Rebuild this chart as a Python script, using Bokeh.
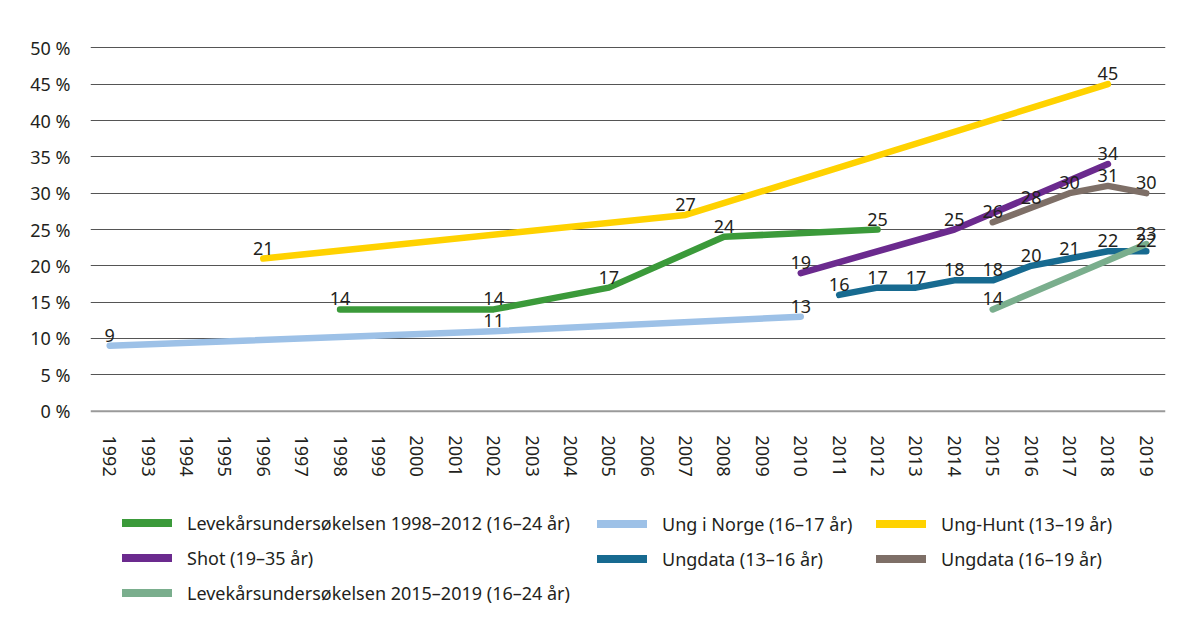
from bokeh.plotting import figure
from bokeh.layouts import column
from bokeh.models import (Range1d, FactorRange, FixedTicker, Legend, LegendItem,
                          ColumnDataSource, Span, CustomJSTickFormatter)
from bokeh.embed import file_html
from bokeh.resources import INLINE
from bokeh.core.properties import value

FONT = "Noto Sans"
TXT = "#231f20"
NAN = float("nan")

years = ["1992", "1993", "1994", "1995", "1996", "1997", "1998", "1999", "2000",
         "2001", "2002", "2003", "2004", "2005", "2006", "2007", "2008", "2009",
         "2010", "2011", "2012", "2013", "2014", "2015", "2016", "2017", "2018", "2019"]
y_ticks = [0, 5, 10, 15, 20, 25, 30, 35, 40, 45, 50]

lev1_years = ["1998", "2002", "2005", "2008", "2012"]
lev1_vals = [14, 14, 17, 24, 25]

ungnorge_years = ["1992", "2002", "2010"]
ungnorge_vals = [9, 11, 13]

hunt_years = ["1996", "2007", "2018"]
hunt_vals = [21, 27, 45]

shot_years = ["2010", "2014", "2018"]
shot_vals = [19, 25, 34]

ud1316_years = ["2011", "2012", "2013", "2014", "2015", "2016", "2017", "2018", "2019"]
ud1316_vals = [16, 17, 17, 18, 18, 20, 21, 22, 22]

ud1619_years = ["2015", "2016", "2017", "2018", "2019"]
ud1619_vals = [26, 28, 30, 31, 30]

lev2_years = ["2015", "2019"]
lev2_vals = [14, 23]

series = [
    ("Levekårsundersøkelsen 1998–2012 (16–24 år)", lev1_years, lev1_vals, "#3b9a3a"),
    ("Ung i Norge (16–17 år)", ungnorge_years, ungnorge_vals, "#9dc1e7"),
    ("Ung-Hunt (13–19 år)", hunt_years, hunt_vals, "#ffd200"),
    ("Shot (19–35 år)", shot_years, shot_vals, "#6b2a8e"),
    ("Ungdata (13–16 år)", ud1316_years, ud1316_vals, "#176a90"),
    ("Ungdata (16–19 år)", ud1619_years, ud1619_vals, "#7e6f67"),
    ("Levekårsundersøkelsen 2015–2019 (16–24 år)", lev2_years, lev2_vals, "#7aae8d"),
]

W = 1184
p = figure(width=W, height=480,
           x_range=FactorRange(factors=years),
           y_range=Range1d(-0.6, 50.6),
           output_backend="svg", toolbar_location=None,
           min_border_left=90, min_border_right=19,
           min_border_top=43, min_border_bottom=65)
p.outline_line_color = None

p.xgrid.grid_line_color = None
p.ygrid.ticker = FixedTicker(ticks=y_ticks[1:])
p.ygrid.grid_line_color = "#555555"
p.ygrid.grid_line_width = 1

p.add_layout(Span(location=0, dimension="width", line_color="#9a9a9a", line_width=2))

p.yaxis.ticker = FixedTicker(ticks=y_ticks)
p.yaxis.formatter = CustomJSTickFormatter(code="return tick + ' %';")
for ax in (p.xaxis, p.yaxis):
    ax.axis_line_color = None
    ax.major_tick_line_color = None
    ax.minor_tick_line_color = None
    ax.major_label_text_font = FONT
    ax.major_label_text_font_size = "18px"
    ax.major_label_text_color = TXT
p.yaxis.major_label_standoff = 14
p.xaxis.major_label_orientation = "vertical"
p.xaxis.major_label_standoff = 14

for name, xs, ys, col in series:
    src = ColumnDataSource(dict(x=xs, y=ys))
    p.line("x", "y", source=src, line_color=col, line_width=6.5,
           line_cap="round", line_join="round")

for name, xs, ys, col in series:
    src = ColumnDataSource(dict(x=xs, y=ys, t=[str(v) for v in ys]))
    p.text("x", "y", text="t", source=src, text_align="center",
           text_baseline="bottom", y_offset=-4,
           text_font=value(FONT), text_font_size=value("18px"), text_color=TXT)

# legend panel (its frame is aligned with the chart frame: left edge at x=90)
lg = figure(width=W, height=143, x_range=Range1d(0, 1), y_range=Range1d(0, 1),
            output_backend="svg", toolbar_location=None,
            min_border_left=0, min_border_right=0, min_border_top=0, min_border_bottom=0,
            x_axis_location=None, y_axis_location=None)
lg.outline_line_color = None
lg.grid.grid_line_color = None

dummies = []
for name, xs, ys, col in series:
    r = lg.line(x=[NAN], y=[NAN], line_color=col, line_width=8, line_cap="round")
    dummies.append((name, r))

cols = [([0, 3, 6], (32, 18)), ([1, 4], (507, 52)), ([2, 5], (786, 52))]
for idx, loc in cols:
    items = [LegendItem(label=dummies[i][0], renderers=[dummies[i][1]]) for i in idx]
    leg = Legend(items=items, location=loc, orientation="vertical",
                 glyph_width=50, glyph_height=25, label_height=25,
                 spacing=10, label_standoff=15, padding=0, margin=0,
                 border_line_color=None, background_fill_alpha=0,
                 label_text_font=FONT, label_text_font_size="18px",
                 label_text_color=TXT)
    lg.add_layout(leg)

layout = column(p, lg, spacing=0)
open("out.html", "w").write(file_html(layout, INLINE))
